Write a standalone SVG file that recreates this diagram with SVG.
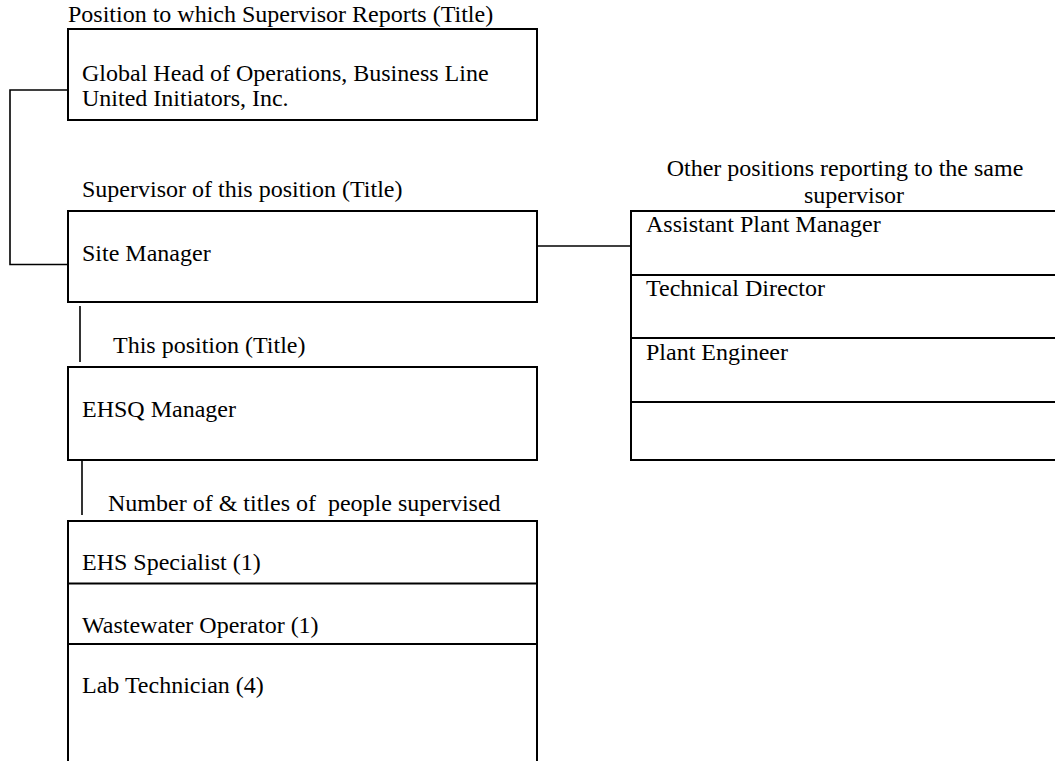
<svg xmlns="http://www.w3.org/2000/svg" width="1055" height="761" viewBox="0 0 1055 761">
<style>
text{font-family:"Liberation Serif","Times New Roman",serif;font-size:24px;fill:#000;white-space:pre}
.box{fill:none;stroke:#000;stroke-width:2}
.div{stroke:#000;stroke-width:2}
.con{fill:none;stroke:#000;stroke-width:1.6}
</style>
<rect width="1055" height="761" fill="#fff"/>
<g id="connectors">
<polyline class="con" points="68,90 10,90 10,264.5 68,264.5"/>
<line class="con" x1="537" y1="246" x2="631" y2="246"/>
<line class="con" x1="80" y1="306" x2="80" y2="362"/>
<line class="con" x1="82" y1="459" x2="82" y2="515"/>
</g>
<g id="node-reports-to">
<text x="68" y="22">Position to which Supervisor Reports (Title)</text>
<rect class="box" x="68" y="29" width="469" height="91"/>
<text x="82" y="81">Global Head of Operations, Business Line</text>
<text x="82" y="106">United Initiators, Inc.</text>
</g>
<g id="node-supervisor">
<text x="82" y="197">Supervisor of this position (Title)</text>
<rect class="box" x="68" y="211" width="469" height="91"/>
<text x="82" y="261">Site Manager</text>
</g>
<g id="node-this-position">
<text x="113" y="353">This position (Title)</text>
<rect class="box" x="68" y="367" width="469" height="93"/>
<text x="82" y="417">EHSQ Manager</text>
</g>
<g id="node-supervised">
<text x="108" y="511" xml:space="preserve">Number of &amp; titles of  people supervised</text>
<path class="box" d="M68,770 V521 H537 V770"/>
<line class="div" x1="68" y1="583.5" x2="537" y2="583.5"/>
<line class="div" x1="68" y1="644" x2="537" y2="644"/>
<text x="82" y="570">EHS Specialist (1)</text>
<text x="82" y="633">Wastewater Operator (1)</text>
<text x="82" y="693">Lab Technician (4)</text>
</g>
<g id="node-peers">
<text x="845" y="176" text-anchor="middle">Other positions reporting to the same</text>
<text x="854" y="203" text-anchor="middle">supervisor</text>
<rect class="box" x="631" y="211" width="440" height="249"/>
<line class="div" x1="631" y1="275" x2="1060" y2="275"/>
<line class="div" x1="631" y1="338" x2="1060" y2="338"/>
<line class="div" x1="631" y1="402" x2="1060" y2="402"/>
<text x="646" y="232">Assistant Plant Manager</text>
<text x="646" y="296">Technical Director</text>
<text x="646" y="360">Plant Engineer</text>
</g>
</svg>
